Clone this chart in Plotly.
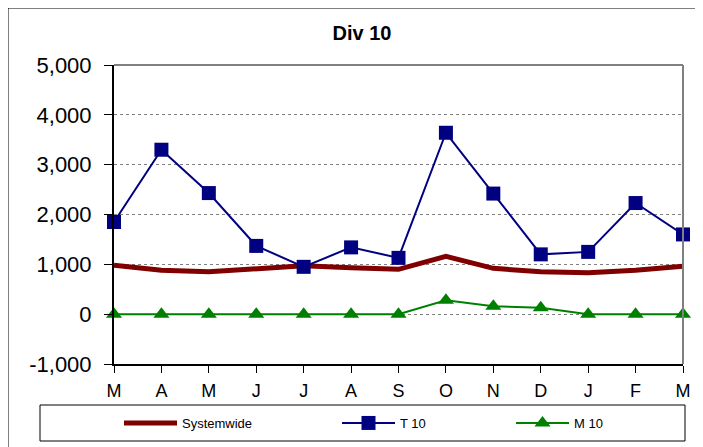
import plotly.graph_objects as go

months = ["M", "A", "M", "J", "J", "A", "S", "O", "N", "D", "J", "F", "M"]
systemwide = [980, 880, 850, 910, 970, 930, 900, 1160, 920, 850, 830, 880, 960]
t10 = [1850, 3300, 2430, 1370, 950, 1340, 1130, 3640, 2420, 1200, 1250, 2230, 1600]
m10 = [0, 0, 0, 0, 0, 0, 0, 280, 160, 130, 0, 0, 0]
y_tickvals = [-1000, 0, 1000, 2000, 3000, 4000, 5000]
y_ticktext = ["-1,000", "0", "1,000", "2,000", "3,000", "4,000", "5,000"]

xs = list(range(len(months)))
FONT = "Arial, Liberation Sans, sans-serif"

OFF = 8  # page body margin
W, H = 703 - OFF, 447 - OFF
L, R, T, B = 114 - OFF, 683 - OFF, 65 - OFF, 364 - OFF
pw, ph = R - L, B - T

def px(x):
    return (x - OFF - L) / pw

def py(y):
    return (B - (y - OFF)) / ph

fig = go.Figure()
fig.add_trace(go.Scatter(x=xs, y=systemwide, name="Systemwide", mode="lines",
                         line=dict(color="#800000", width=5), cliponaxis=False,
                         legend="legend"))
fig.add_trace(go.Scatter(x=xs, y=t10, name="T 10", mode="lines+markers",
                         line=dict(color="#000080", width=2),
                         marker=dict(symbol="square", size=14, color="#000080"),
                         cliponaxis=False, legend="legend2"))
fig.add_trace(go.Scatter(x=xs, y=m10, name="M 10", mode="lines+markers",
                         line=dict(color="#008000", width=2),
                         marker=dict(symbol="triangle-up", size=14, color="#008000"),
                         cliponaxis=False, legend="legend3"))

shapes = [
    dict(type="rect", xref="paper", yref="paper", x0=px(8), x1=px(710), y0=py(455), y1=py(8),
         line=dict(color="#000000", width=1), layer="below"),
    dict(type="line", xref="paper", yref="paper", x0=0, x1=1, y0=1, y1=1,
         line=dict(color="#808080", width=2)),
    dict(type="line", xref="paper", yref="paper", x0=1, x1=1, y0=0, y1=1,
         line=dict(color="#808080", width=2)),
    dict(type="rect", xref="paper", yref="paper", x0=px(40), x1=px(685), y0=py(441), y1=py(405),
         line=dict(color="#000000", width=1)),
]

def leg(xpix):
    return dict(orientation="h", x=px(xpix), y=py(423), xanchor="left", yanchor="middle",
                bgcolor="rgba(0,0,0,0)", font=dict(size=13, family=FONT), itemwidth=53)

fig.update_layout(
    width=W, height=H,
    margin=dict(l=L, r=W - R, t=T, b=H - B, autoexpand=False),
    paper_bgcolor="white", plot_bgcolor="white",
    font=dict(family=FONT, color="black"),
    title=dict(text="<b>Div 10</b>", x=(362 - OFF) / W, xanchor="center",
               y=1 - (33 - OFF) / H, yanchor="middle",
               font=dict(size=20, family=FONT)),
    xaxis=dict(range=[0, 12], tickmode="array", tickvals=xs, ticktext=months,
               showgrid=False, showline=True, linecolor="black", linewidth=2,
               ticks="outside", ticklen=7, tickcolor="black", ticklabelstandoff=2,
               tickfont=dict(size=18, family=FONT), zeroline=False),
    yaxis=dict(range=[-1000, 5000], tickmode="array", tickvals=y_tickvals, ticktext=y_ticktext,
               showgrid=True, gridcolor="#808080", griddash="dot", gridwidth=1,
               showline=True, linecolor="black", linewidth=2,
               ticks="outside", ticklen=8, tickcolor="black", ticklabelstandoff=8,
               tickfont=dict(size=22, family=FONT), zeroline=False),
    showlegend=True,
    legend=leg(119),
    legend2=leg(337),
    legend3=leg(511),
    shapes=shapes,
)

fig.write_html("out.html")
